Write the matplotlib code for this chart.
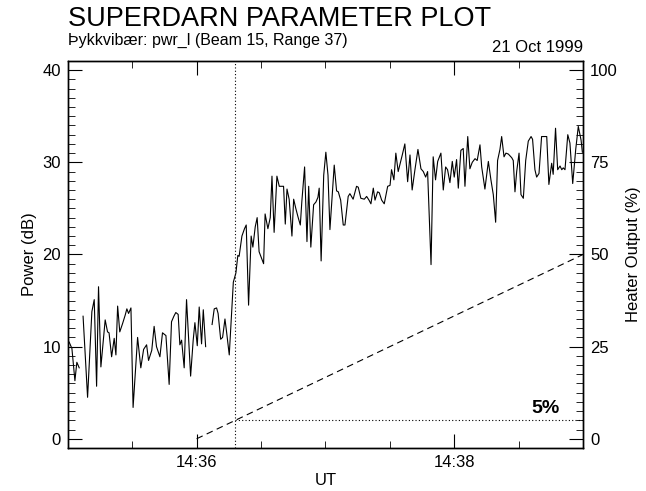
import matplotlib
matplotlib.use("Agg")
import matplotlib.pyplot as plt
import matplotlib.dates as mdates
from matplotlib.ticker import MultipleLocator
import numpy as np
import pandas as pd

plt.rcParams['font.family'] = ['Liberation Sans', 'DejaVu Sans']

# seconds after 14:35:00 UT, power in dB (nan = missing data)
secs = [0.6, 1.9, 3.3, 4.2, 5.3, 6.2,
        7.1, 9.2, 11.2, 12.3, 13.4, 14.3, 15.4, 17.4, 18.5, 19.2, 20.4, 21.6,
        22.4, 23.2, 24.2, 25.5, 26.7, 27.5, 28.3, 29.4, 30.4, 32.5, 34.0, 35.3,
        36.7, 37.6, 39.1, 40.2, 41.3, 42.9, 44.1, 45.7, 47.2, 48.3, 49.4, 50.3,
        51.4, 52.2, 53.0, 54.2, 55.3, 57.2, 58.4, 59.2, 60.3, 61.2, 62.3, 63.1,
        64.2, 65.7,
        67.2, 68.2, 69.3, 70.0, 71.2, 72.1, 73.2, 74.0, 75.2, 77.1, 78.3, 79.2,
        79.8, 81.1, 82.3, 83.1, 84.2, 85.4, 86.2, 87.3, 88.2, 89.1, 91.2, 91.9,
        93.2, 94.3, 95.1, 96.1, 97.4, 98.5, 99.7, 100.5, 101.3, 102.1, 103.1,
        104.4, 105.2, 106.2, 107.2, 108.3, 109.0, 110.3, 111.4, 112.2, 113.2,
        114.5, 115.6, 116.5, 117.1, 118.0, 119.2, 120.2, 121.2, 122.1, 124.1,
        125.2, 126.0, 127.1, 128.3, 129.1, 130.6, 131.4, 132.9, 134.5, 135.3,
        136.5, 138.1, 139.2, 140.3, 141.2, 142.3, 143.1, 144.3, 145.1, 146.2,
        147.4, 149.0, 150.1, 150.8, 151.9, 152.8, 153.9, 155.8, 157.0, 158.3,
        159.4, 160.4, 161.7, 163.1, 164.5, 165.6, 166.7, 167.6, 169.2, 170.2,
        171.3, 172.3, 173.8, 174.9, 176.0, 176.9, 178.0, 179.1, 180.0, 181.1,
        181.9, 183.1, 184.2, 185.0, 186.3, 187.3, 188.4, 189.7, 190.7, 192.0,
        192.8, 194.3, 195.9, 197.1, 198.2, 199.3, 200.2, 201.3, 202.1, 203.2,
        204.1, 205.2, 206.8, 207.5, 208.3, 209.1, 210.2, 211.1, 212.2, 213.3,
        214.5, 215.8, 216.5, 217.6, 218.4, 219.5, 220.7, 222.3, 223.1, 224.1,
        225.4, 226.1, 227.2, 228.2, 229.3, 230.1, 230.8, 231.6, 232.9, 233.9,
        235.2, 236.6, 237.8, 239.1, 239.7]
power = [10.5, 9.8, 6.3, 8.3, 7.7, np.nan,
         13.3, 4.5, 13.8, 15.1, 5.7, 16.5, 7.8, 12.9, 11.6, 11.5, 8.9, 10.9,
         9.1, 14.4, 11.6, 12.5, 13.4, 14.1, 13.6, 14.2, 3.4, 11.0, 7.7, 9.7,
         10.2, 8.5, 9.6, 12.2, 10.0, 8.9, 11.5, 11.2, 5.9, 12.7, 13.3, 13.7,
         13.5, 10.2, 10.7, 7.7, 15.1, 6.8, 10.7, 12.6, 10.1, 14.3, 10.3, 14.0,
         10.0, np.nan,
         12.4, 14.1, 14.2, 13.6, 10.8, 11.0, 13.0, 11.5, 9.1, 17.0, 18.0, 19.9,
         19.8, 22.0, 22.8, 23.2, 14.5, 22.0, 20.8, 23.0, 24.0, 20.3, 19.0, 24.4,
         22.8, 24.0, 28.5, 22.4, 28.5, 27.4, 27.4, 27.4, 23.3, 27.1, 26.0,
         22.0, 26.0, 25.0, 24.1, 23.2, 25.7, 29.5, 21.4, 27.4, 20.8,
         25.4, 25.7, 26.2, 27.2, 19.3, 28.6, 31.1, 28.6, 22.7, 29.7,
         26.9, 26.8, 25.9, 23.2, 23.2, 26.3, 26.6, 26.0, 27.4, 27.3,
         26.1, 26.0, 26.3, 25.9, 25.5, 27.2, 25.9, 26.8, 26.7, 25.9,
         25.5, 27.4, 27.5, 29.2, 28.1, 31.0, 29.0, 30.8, 32.0, 27.9,
         30.8, 27.0, 29.2, 31.4, 29.3, 29.0, 28.4, 29.0, 18.9, 30.6,
         28.1, 30.1, 31.0, 27.0, 29.5, 29.2, 27.8, 30.1, 28.4, 30.3,
         27.2, 31.3, 31.5, 27.4, 32.8, 29.3, 30.0, 30.4, 30.2, 31.9,
         29.5, 27.1, 30.1, 28.1, 26.5, 23.5, 30.2, 31.4, 32.8, 30.6,
         31.0, 30.9, 30.5, 30.2, 26.8, 29.0, 31.0, 26.5, 26.1, 30.2,
         32.3, 32.8, 32.5, 29.2, 28.4, 28.8, 32.8, 32.8, 32.8, 27.6,
         29.9, 28.7, 33.7, 29.2, 29.6, 29.2, 29.4, 29.2, 33.0, 32.1,
         27.7, 31.4, 33.9, 32.4, 31.1]

# heater ramp (seconds after 14:35:00, output %)
heater_secs = [60, 240]
heater_pct = [0, 50]
onset_sec = 78.0
onset_pct = 5

t0 = pd.Timestamp('1999-10-21 14:35:00')
def to_time(s):
    return t0 + pd.to_timedelta(np.asarray(s, dtype=float), unit='s')

fig = plt.figure(figsize=(6.46, 4.91), dpi=100)
ax = fig.add_axes([0.105, 0.0876, 0.7975, 0.7882])

ax.plot(to_time(secs), power, color='black', lw=0.8)
ax.axvline(to_time([onset_sec])[0], color='black', lw=0.8, ls=(0, (1, 2)))

ax.set_xlim(to_time([0])[0], to_time([240])[0])
ax.set_ylim(-1, 41)
ax.xaxis.set_major_locator(mdates.MinuteLocator(byminute=[36, 38]))
ax.xaxis.set_minor_locator(mdates.SecondLocator(bysecond=[0, 30]))
ax.xaxis.set_major_formatter(mdates.DateFormatter('%H:%M'))
ax.yaxis.set_major_locator(MultipleLocator(10))
ax.yaxis.set_minor_locator(MultipleLocator(1))
ax.tick_params(which='both', direction='in', top=True, labelsize=12, pad=5)
ax.tick_params(which='major', length=10)
ax.tick_params(which='minor', length=5)
ax.set_xlabel('UT', fontsize=12, labelpad=2)
ax.set_ylabel('Power (dB)', fontsize=12, labelpad=4)

ax2 = ax.twinx()
ax2.plot(to_time(heater_secs), heater_pct, color='black', lw=0.8, ls=(0, (6, 4)))
ax2.plot(to_time([onset_sec, 240]), [onset_pct, onset_pct], color='black', lw=0.8, ls=(0, (1, 2)))
ax2.text(to_time([229])[0], onset_pct + 0.8, '5%', ha='right', va='bottom',
         fontsize=14, fontweight='bold')
ax2.set_ylim(-2.5, 102.5)
ax2.yaxis.set_major_locator(MultipleLocator(25))
ax2.yaxis.set_minor_locator(MultipleLocator(2.5))
ax2.tick_params(which='both', direction='in', labelsize=12, pad=5)
ax2.tick_params(which='major', length=10)
ax2.tick_params(which='minor', length=5)
ax2.set_ylabel('Heater Output (%)', fontsize=12, labelpad=6)

for a in (ax, ax2):
    for sp in a.spines.values():
        sp.set_linewidth(1.0)

fig.text(0.105, 0.947, 'SUPERDARN PARAMETER PLOT', fontsize=19.5, va='baseline', ha='left')
fig.text(0.105, 0.909, 'Þykkvibær: pwr_l (Beam 15, Range 37)', fontsize=11.5, va='baseline', ha='left')
fig.text(0.9025, 0.894, '21 Oct 1999', fontsize=12, va='baseline', ha='right')

fig.savefig('out.png', dpi=100)
